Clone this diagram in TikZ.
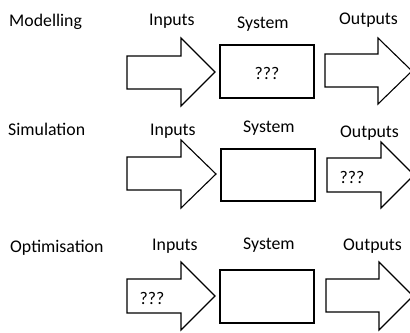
\documentclass[tikz,border=0pt]{standalone}
\usepackage{fontspec}
\setmainfont{Carlito}
\begin{document}
\begin{tikzpicture}[x=1bp,y=-1bp,
  shapeline/.style={draw=black,line width=1.1bp,line join=miter},
  lbl/.style={anchor=base west,inner sep=0pt,font=\fontsize{17.8bp}{20bp}\selectfont},
  qq/.style={inner sep=0pt,font=\fontsize{17.8bp}{20bp}\selectfont}]
\useasboundingbox (0,0) rectangle (410,333);
% Row 1: Modelling
\node[lbl] (m) at (9,26) {Modelling};
\node[lbl] (mi) at (149,25) {Inputs};
\node[lbl] (ms) at (237,28) {System};
\node[lbl] (mo) at (339,24) {Outputs};
\draw[shapeline] (127,56) -- (181,56) -- (181,38) -- (215,72) -- (181,106) -- (181,89) -- (127,89) -- cycle;
\draw[shapeline] (220,45) rectangle (314,98);
\draw[shapeline] (325,54) -- (378,54) -- (378,38) -- (412,71) -- (378,104) -- (378,87) -- (325,87) -- cycle;
\node[qq] (mq) at (267,73) {???};
% Row 2: Simulation
\node[lbl] (s) at (8,135) {Simulation};
\node[lbl] (si) at (150,135) {Inputs};
\node[lbl] (ss) at (243,132) {System};
\node[lbl] (so) at (340,137) {Outputs};
\draw[shapeline] (127,157) -- (181,157) -- (181,140) -- (216,174) -- (181,208) -- (181,190) -- (127,190) -- cycle;
\draw[shapeline] (221,149) rectangle (315,201);
\draw[shapeline] (327,158) -- (381,158) -- (381,142) -- (414,175) -- (381,208) -- (381,192) -- (327,192) -- cycle;
\node[qq] (sq) at (352,177) {???};
% Row 3: Optimisation
\node[lbl] (o) at (10,252) {Optimisation};
\node[lbl] (oi) at (152,250) {Inputs};
\node[lbl] (os) at (243,249) {System};
\node[lbl] (oo) at (343,250) {Outputs};
\draw[shapeline] (127,279) -- (181,279) -- (181,262) -- (215,296) -- (181,330) -- (181,313) -- (127,313) -- cycle;
\draw[shapeline] (220,270) rectangle (314,323);
\draw[shapeline] (326,279) -- (379,279) -- (379,262) -- (413,296) -- (379,330) -- (379,312) -- (326,312) -- cycle;
\node[qq] (oq) at (152,298) {???};
\end{tikzpicture}
\end{document}
